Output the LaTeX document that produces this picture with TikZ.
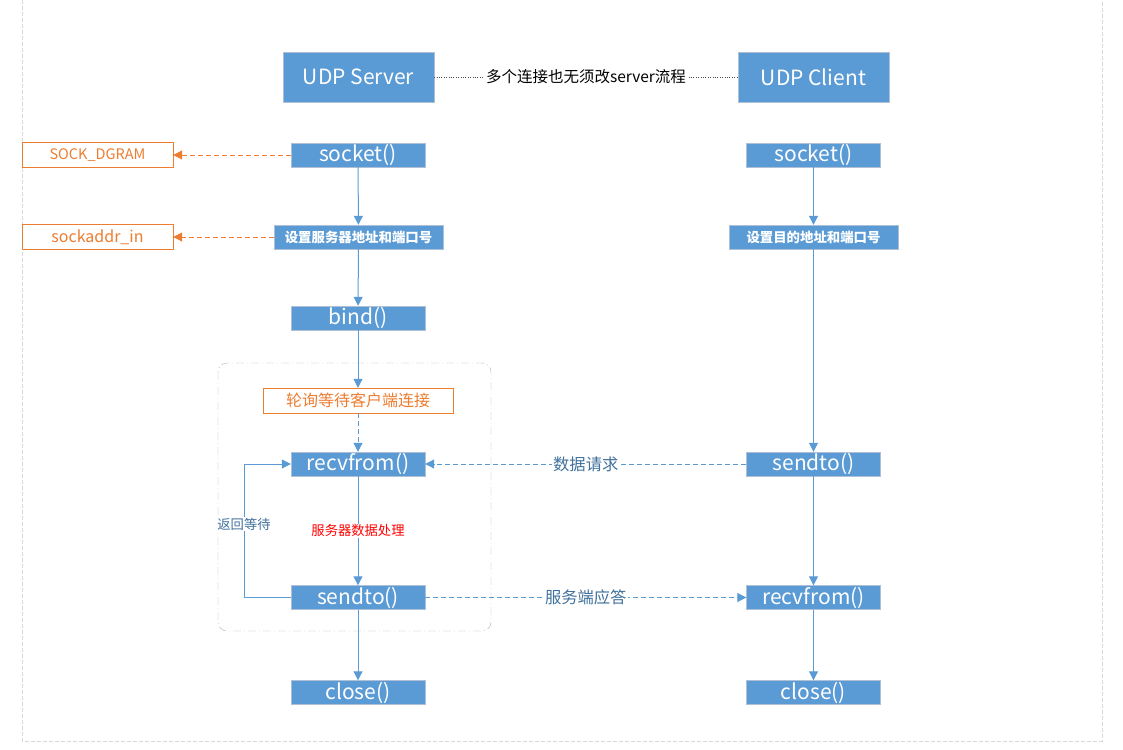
\documentclass[tikz,border=0pt]{standalone}
\usepackage{fontspec}
\setmainfont{Noto Sans CJK SC}
\usetikzlibrary{arrows.meta}
\definecolor{boxblue}{HTML}{5B9BD5}
\definecolor{boxedge}{HTML}{AFC0D6}
\definecolor{ornge}{HTML}{ED7D31}
\definecolor{lblblue}{HTML}{41719C}
\newcommand{\fsz}[1]{\fontsize{#1}{#1}\selectfont}

\begin{document}
\begin{tikzpicture}[x=1pt,y=-1pt,
  func/.style={fill=boxblue,draw=boxedge,text=white,font=\fsz{21},minimum width=134pt,minimum height=24pt,inner sep=0pt},
  actor/.style={func,minimum width=151pt,minimum height=50pt},
  setup/.style={func,minimum width=169pt,font=\fsz{13.4}\bfseries},
  note/.style={draw=ornge,fill=white,text=ornge,minimum width=151pt,minimum height=25pt,inner sep=0pt,font=\fsz{14.5}},
  flow/.style={draw=boxblue,line width=1pt,-{Triangle[length=9pt,width=9pt]}},
  msg/.style={flow,dash pattern=on 5pt off 3pt},
  tag/.style={fill=white,inner sep=1pt,text=lblblue,font=\fsz{16.3}}]
%   (srv) ......... (cli)
%     |               |
%   socket()        socket()
%     |               |
%   bind()            |
%   recvfrom() <--- sendto()
%   sendto()  ---> recvfrom()
%   close()         close()

	\useasboundingbox (0,0) rectangle (1123,749);
	\draw[gray!30,dash pattern=on 4pt off 2pt] (22,0)--(22,741)--(1102,741)--(1102,0);
	\draw[gray!60,dash pattern=on 8pt off 3pt on 1pt off 3pt,rounded corners=9pt] (218,363) rectangle (491,631);

	\node[actor] (srv) at (358.5,77) {UDP Server};
	\node[actor] (cli) at (813.5,77) {UDP Client};
	\draw[black!70,dotted] (srv)-- node[fill=white,text=black,inner sep=2pt,font=\fsz{15.5}] {多个连接也无须改server流程} (cli);

	% server
	\node[func]  (ssock)  at (358,155)   {socket()};
	\node[note]  (dgram)  at (97.5,155)  {SOCK\_DGRAM};
	\node[setup] (saddr)  at (358.5,237) {设置服务器地址和端口号};
	\node[note,font=\fsz{16}] (sin) at (97.5,237) {sockaddr\_in};
	\node[func]  (bind)   at (358,318)   {bind()};
	\node[note,minimum width=190pt,font=\fsz{16}] (poll) at (358,400.5) {轮询等待客户端连接};
	\node[func]  (srecv)  at (358,464)   {recvfrom()};
	\node[func]  (ssend)  at (358,597.5) {sendto()};
	\node[func]  (sclose) at (358,692.5) {close()};

	% client
	\node[func]  (csock)  at (813.5,155)   {socket()};
	\node[setup] (caddr)  at (813.5,237)   {设置目的地址和端口号};
	\node[func]  (csend)  at (813.5,464)   {sendto()};
	\node[func]  (crecv)  at (813.5,597.5) {recvfrom()};
	\node[func]  (cclose) at (813.5,692.5) {close()};

	\draw[flow,draw=ornge,dash pattern=on 5pt off 3pt] (ssock)--(dgram);
	\draw[flow,draw=ornge,dash pattern=on 5pt off 3pt] (saddr)--(sin);

	\draw[flow] (ssock)--(saddr);
	\draw[flow] (saddr)--(bind);
	\draw[flow] (bind)--(poll);
	\draw[msg]  (poll)--(srecv);
	\draw[flow] (srecv)-- node[fill=white,inner sep=1pt,text=red,font=\fsz{13.3}] {服务器数据处理} (ssend);
	\draw[flow] (ssend)--(sclose);

	\coordinate (lp) at (244,0);
	\draw[flow] (ssend.west)--(ssend.west-|lp)-- node[tag,pos=.55,font=\fsz{13.3}] {返回等待} (srecv.west-|lp)--(srecv.west);

	\draw[flow] (csock)--(caddr);
	\draw[flow] (caddr)--(csend);
	\draw[flow] (csend)--(crecv);
	\draw[flow] (crecv)--(cclose);

	\draw[msg] (csend)-- node[tag] {数据请求} (srecv);
	\draw[msg] (ssend)-- node[tag] {服务端应答} (crecv);

\end{tikzpicture}
\end{document}
